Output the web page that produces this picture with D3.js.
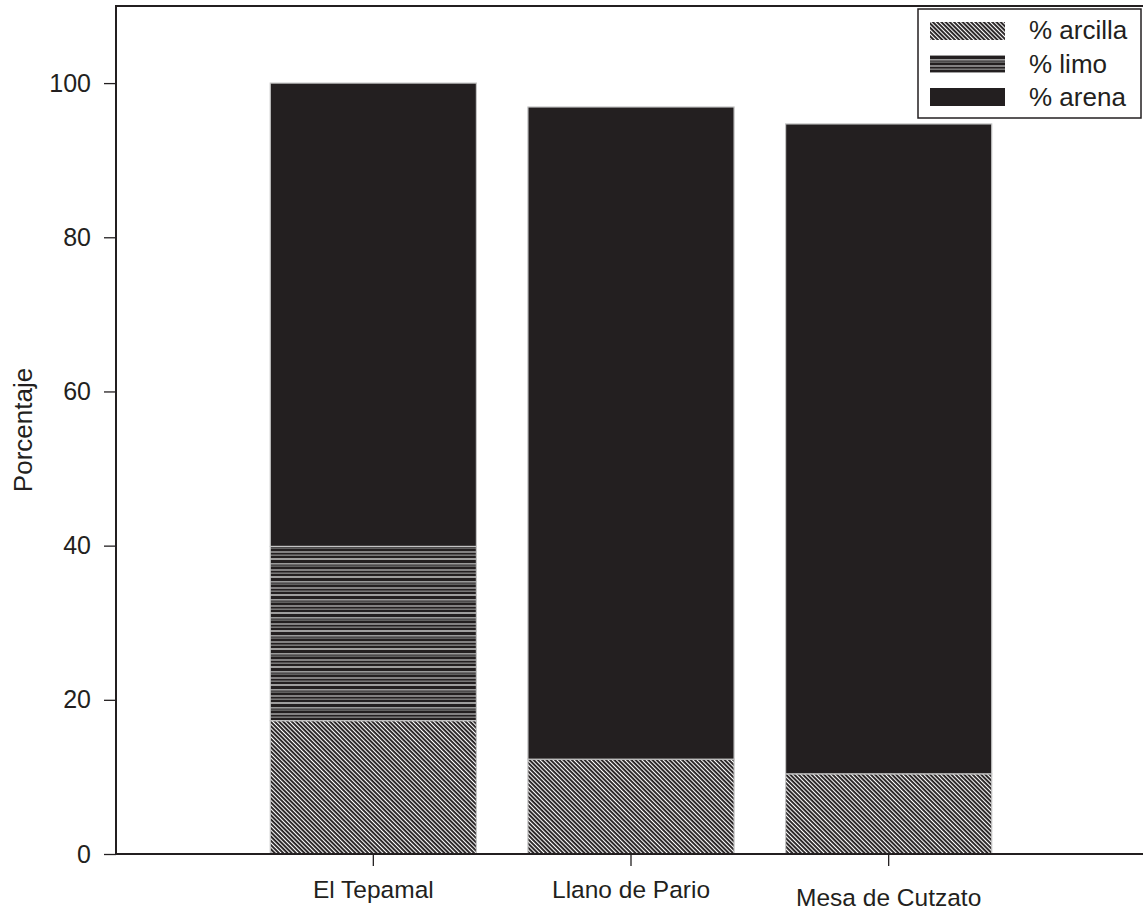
<!DOCTYPE html>
<html>
<head>
<meta charset="utf-8">
<script src="https://cdn.jsdelivr.net/npm/d3@7"></script>
<style>
  html, body { margin: 0; padding: 0; background: #fff; }
  svg { display: block; }
  text { font-family: "Liberation Sans", Arial, Helvetica, sans-serif; fill: #231f20; }
</style>
</head>
<body>
<svg id="chart" width="1143" height="919"></svg>
<script>
// ---- data ----
const categories = ["El Tepamal", "Llano de Pario", "Mesa de Cutzato"];
const arcilla = [17.3, 12.3, 10.4];
const limo = [22.6, 0, 0];
const arena = [60.1, 84.6, 84.3];
const seriesNames = ["% arcilla", "% limo", "% arena"];
const yTicks = [0, 20, 40, 60, 80, 100];
const yLabel = "Porcentaje";

(function () {
// ---- layout ----
const svg = d3.select("#chart");
const dark = "#231f20";
const mLeft = 116, mRight = 1146, mTop = 6, mBottom = 854;

const y = d3.scaleLinear().domain([0, 110]).range([mBottom, mTop]);
const x = d3.scaleBand().domain(categories)
  .range([mLeft + 128.5, mRight - 128.5]).paddingInner(0.2).paddingOuter(0.1);

// ---- patterns ----
const defs = svg.append("defs");
const pA = defs.append("pattern").attr("id", "pat-arcilla")
  .attr("patternUnits", "userSpaceOnUse").attr("width", 3).attr("height", 10)
  .attr("patternTransform", "rotate(-45)");
pA.append("rect").attr("width", 3).attr("height", 10).attr("fill", dark);
pA.append("rect").attr("x", 0).attr("width", 1.1).attr("height", 10).attr("fill", "#ffffff");

const pL = defs.append("pattern").attr("id", "pat-limo")
  .attr("patternUnits", "userSpaceOnUse").attr("width", 20).attr("height", 18);
pL.append("rect").attr("width", 20).attr("height", 18).attr("fill", dark);
[[0.3, 1.4, "#d4d4d4"], [5.0, 1.6, "#9a9a9a"], [7.6, 1.0, "#8a8a8a"], [11.4, 1.2, "#c2c2c2"], [14.6, 1.1, "#9c9c9c"]]
  .forEach(([yy, h, c]) => pL.append("rect").attr("x", 0).attr("y", yy).attr("width", 20).attr("height", h).attr("fill", c));

const fills = ["url(#pat-arcilla)", "url(#pat-limo)", dark];

// ---- frame ----
svg.append("rect").attr("x", mLeft).attr("y", mTop)
  .attr("width", mRight - mLeft).attr("height", mBottom - mTop)
  .attr("fill", "none").attr("stroke", dark).attr("stroke-width", 2);

// ---- bars ----
const stackData = categories.map((c, i) => ({ cat: c, arcilla: arcilla[i], limo: limo[i], arena: arena[i] }));
const stack = d3.stack().keys(["arcilla", "limo", "arena"]);
const layers = stack(stackData);

svg.append("g").selectAll("g").data(layers).join("g")
  .attr("fill", (d, i) => fills[i])
  .selectAll("rect").data(d => d.filter(s => s[1] - s[0] > 0)).join("rect")
  .attr("x", d => x(d.data.cat))
  .attr("width", x.bandwidth())
  .attr("y", d => y(d[1]))
  .attr("height", d => y(d[0]) - y(d[1]))
  .attr("stroke", "#c4c4c4").attr("stroke-width", 1.2);

// ---- axes ----
const yAxis = svg.append("g").attr("transform", `translate(${mLeft},0)`)
  .call(d3.axisLeft(y).tickValues(yTicks).tickSize(12).tickPadding(13).tickSizeOuter(0));
yAxis.select(".domain").remove();
yAxis.selectAll(".tick line").attr("stroke", dark).attr("stroke-width", 1.3);
yAxis.selectAll(".tick text").style("font-size", "25px").attr("fill", dark)
  .style("font-family", "Liberation Sans, Arial, sans-serif");

const xAxis = svg.append("g").attr("transform", `translate(0,${mBottom})`)
  .call(d3.axisBottom(x).tickSize(12).tickPadding(14).tickSizeOuter(0));
xAxis.select(".domain").remove();
xAxis.selectAll(".tick line").attr("stroke", dark).attr("stroke-width", 1.3);
xAxis.selectAll(".tick text").style("font-size", "24.5px").attr("fill", dark)
  .style("font-family", "Liberation Sans, Arial, sans-serif")
  .attr("dy", (d, i) => (i === 2 ? "1.05em" : "0.75em"));

// redraw baseline and left axis on top
svg.append("line").attr("x1", mLeft).attr("x2", mRight).attr("y1", mBottom).attr("y2", mBottom)
  .attr("stroke", dark).attr("stroke-width", 2);
svg.append("line").attr("x1", mLeft).attr("x2", mLeft).attr("y1", mTop).attr("y2", mBottom)
  .attr("stroke", dark).attr("stroke-width", 2);

// ---- y label ----
svg.append("text").attr("transform", "translate(32,430) rotate(-90)")
  .attr("text-anchor", "middle").style("font-size", "26px").text(yLabel);

// ---- legend ----
const lg = svg.append("g");
lg.append("rect").attr("x", 918).attr("y", 9).attr("width", 223).attr("height", 109)
  .attr("fill", "#fff").attr("stroke", dark).attr("stroke-width", 1.5);
seriesNames.forEach((name, i) => {
  lg.append("rect").attr("x", 930).attr("y", 22 + i * 33).attr("width", 75).attr("height", 18)
    .attr("fill", fills[i]);
  lg.append("text").attr("x", 1029).attr("y", 39 + i * 33.5)
    .style("font-size", "26px").text(name);
});
})();
</script>
</body>
</html>
